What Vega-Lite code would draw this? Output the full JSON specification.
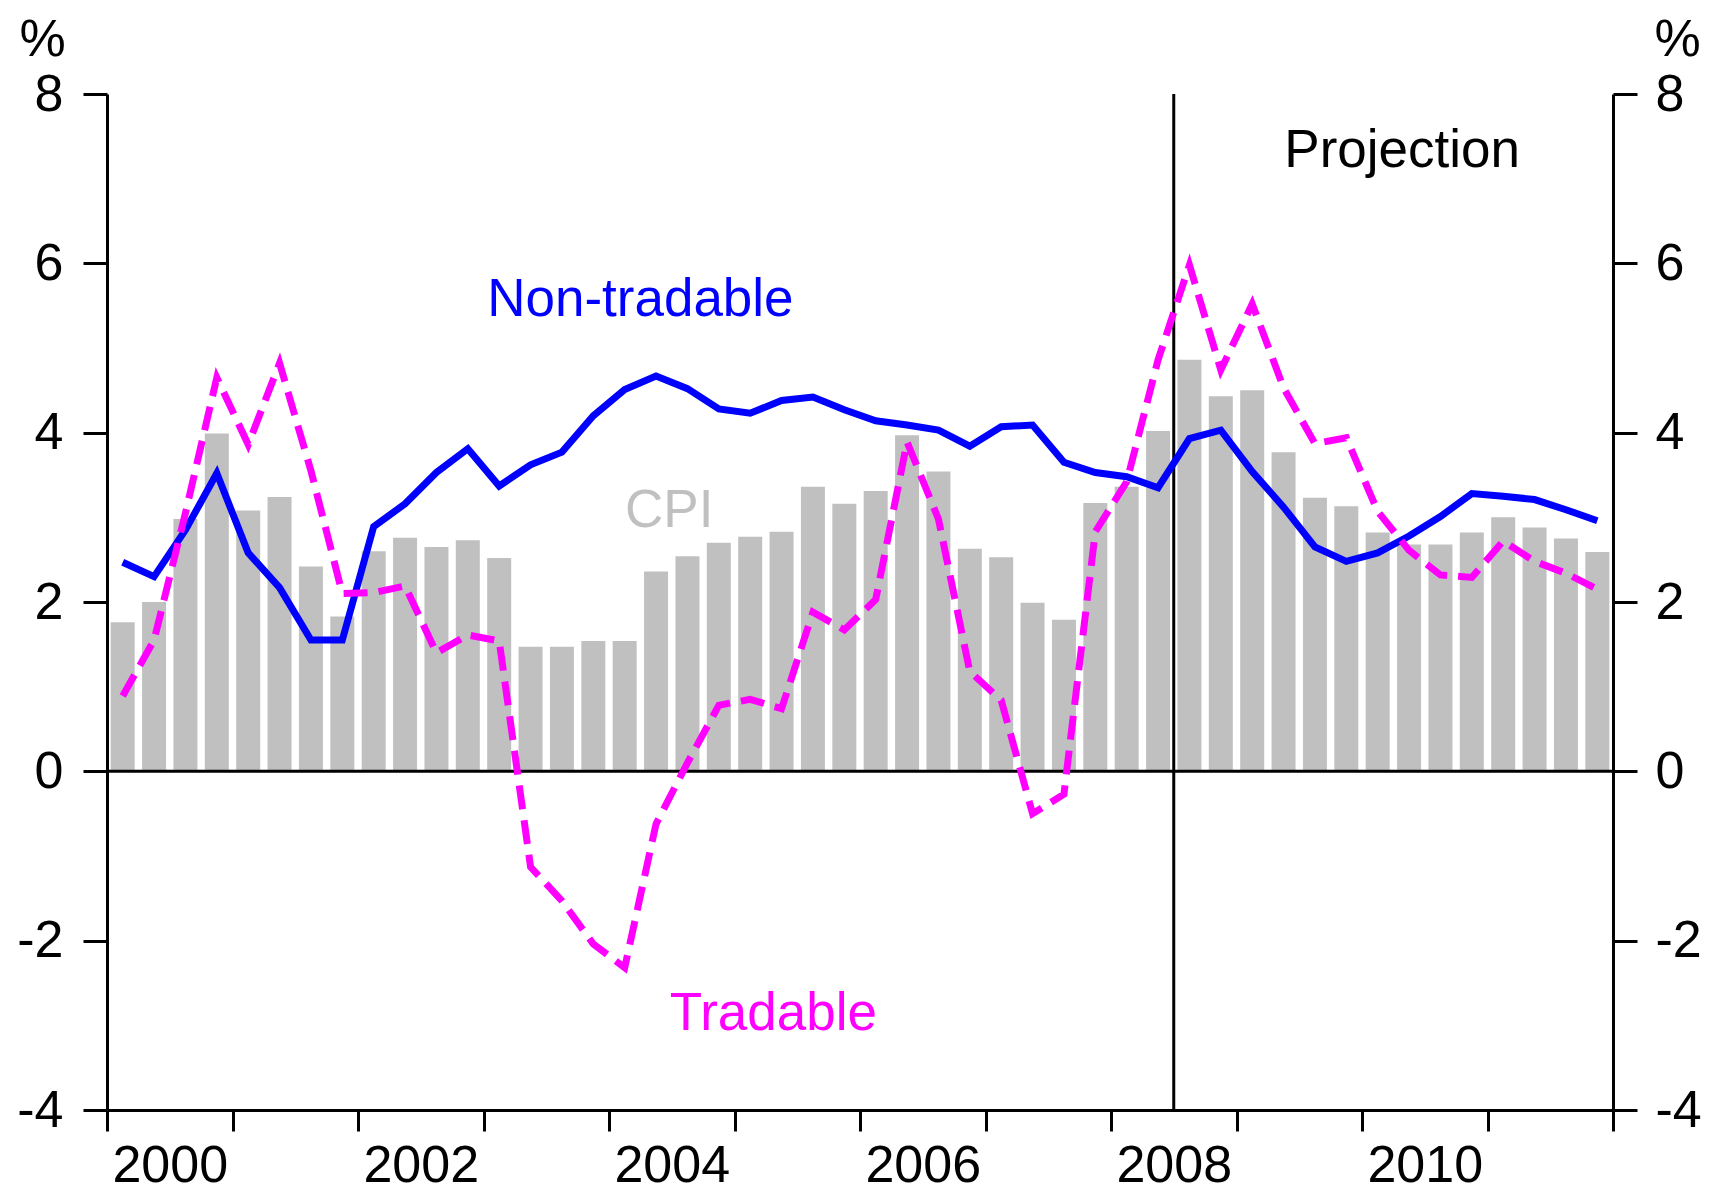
{
  "$schema": "https://vega.github.io/schema/vega-lite/v6.json",
  "width": 1506,
  "height": 1016,
  "autosize": {"type": "none"},
  "padding": {"left": 107, "top": 94, "right": 96, "bottom": 82},
  "background": "white",
  "config": {
    "view": {"stroke": null},
    "font": "Liberation Sans",
    "axis": {
      "grid": false,
      "domainColor": "black",
      "domainWidth": 3,
      "tickColor": "black",
      "tickWidth": 3,
      "tickSize": 24,
      "labelFont": "Liberation Sans",
      "labelFontSize": 52,
      "labelColor": "black",
      "labelOverlap": false,
      "titleFont": "Liberation Sans",
      "titleFontSize": 52,
      "titleFontWeight": "normal",
      "titleColor": "black"
    }
  },
  "datasets": {
    "series": [
      {"date": 2000.125, "cpi": 1.76, "nontradable": 2.47, "tradable": 0.89},
      {"date": 2000.375, "cpi": 2.00, "nontradable": 2.30, "tradable": 1.55},
      {"date": 2000.625, "cpi": 2.98, "nontradable": 2.85, "tradable": 3.05},
      {"date": 2000.875, "cpi": 3.99, "nontradable": 3.52, "tradable": 4.65},
      {"date": 2001.125, "cpi": 3.08, "nontradable": 2.58, "tradable": 3.86},
      {"date": 2001.375, "cpi": 3.24, "nontradable": 2.17, "tradable": 4.82},
      {"date": 2001.625, "cpi": 2.42, "nontradable": 1.55, "tradable": 3.55},
      {"date": 2001.875, "cpi": 1.83, "nontradable": 1.55, "tradable": 2.10},
      {"date": 2002.125, "cpi": 2.60, "nontradable": 2.89, "tradable": 2.11},
      {"date": 2002.375, "cpi": 2.76, "nontradable": 3.16, "tradable": 2.19},
      {"date": 2002.625, "cpi": 2.65, "nontradable": 3.53, "tradable": 1.40},
      {"date": 2002.875, "cpi": 2.73, "nontradable": 3.81, "tradable": 1.61},
      {"date": 2003.125, "cpi": 2.52, "nontradable": 3.37, "tradable": 1.54},
      {"date": 2003.375, "cpi": 1.47, "nontradable": 3.62, "tradable": -1.13},
      {"date": 2003.625, "cpi": 1.47, "nontradable": 3.77, "tradable": -1.53},
      {"date": 2003.875, "cpi": 1.54, "nontradable": 4.20, "tradable": -2.04},
      {"date": 2004.125, "cpi": 1.54, "nontradable": 4.51, "tradable": -2.32},
      {"date": 2004.375, "cpi": 2.36, "nontradable": 4.67, "tradable": -0.62},
      {"date": 2004.625, "cpi": 2.54, "nontradable": 4.52, "tradable": 0.10},
      {"date": 2004.875, "cpi": 2.70, "nontradable": 4.28, "tradable": 0.78},
      {"date": 2005.125, "cpi": 2.77, "nontradable": 4.23, "tradable": 0.85},
      {"date": 2005.375, "cpi": 2.83, "nontradable": 4.38, "tradable": 0.74},
      {"date": 2005.625, "cpi": 3.36, "nontradable": 4.42, "tradable": 1.88},
      {"date": 2005.875, "cpi": 3.16, "nontradable": 4.27, "tradable": 1.67},
      {"date": 2006.125, "cpi": 3.31, "nontradable": 4.14, "tradable": 2.03},
      {"date": 2006.375, "cpi": 3.97, "nontradable": 4.09, "tradable": 3.89},
      {"date": 2006.625, "cpi": 3.54, "nontradable": 4.03, "tradable": 2.98},
      {"date": 2006.875, "cpi": 2.63, "nontradable": 3.84, "tradable": 1.18},
      {"date": 2007.125, "cpi": 2.53, "nontradable": 4.07, "tradable": 0.84},
      {"date": 2007.375, "cpi": 1.99, "nontradable": 4.09, "tradable": -0.50},
      {"date": 2007.625, "cpi": 1.79, "nontradable": 3.65, "tradable": -0.27},
      {"date": 2007.875, "cpi": 3.17, "nontradable": 3.53, "tradable": 2.83},
      {"date": 2008.125, "cpi": 3.36, "nontradable": 3.48, "tradable": 3.42},
      {"date": 2008.375, "cpi": 4.02, "nontradable": 3.35, "tradable": 4.86},
      {"date": 2008.625, "cpi": 4.86, "nontradable": 3.93, "tradable": 5.98},
      {"date": 2008.875, "cpi": 4.43, "nontradable": 4.03, "tradable": 4.74},
      {"date": 2009.125, "cpi": 4.50, "nontradable": 3.54, "tradable": 5.52},
      {"date": 2009.375, "cpi": 3.77, "nontradable": 3.12, "tradable": 4.53},
      {"date": 2009.625, "cpi": 3.23, "nontradable": 2.65, "tradable": 3.87},
      {"date": 2009.875, "cpi": 3.13, "nontradable": 2.48, "tradable": 3.94},
      {"date": 2010.125, "cpi": 2.82, "nontradable": 2.58, "tradable": 3.07},
      {"date": 2010.375, "cpi": 2.68, "nontradable": 2.78, "tradable": 2.61},
      {"date": 2010.625, "cpi": 2.68, "nontradable": 3.01, "tradable": 2.32},
      {"date": 2010.875, "cpi": 2.82, "nontradable": 3.28, "tradable": 2.29},
      {"date": 2011.125, "cpi": 3.00, "nontradable": 3.25, "tradable": 2.72},
      {"date": 2011.375, "cpi": 2.88, "nontradable": 3.21, "tradable": 2.48},
      {"date": 2011.625, "cpi": 2.75, "nontradable": 3.09, "tradable": 2.34},
      {"date": 2011.875, "cpi": 2.59, "nontradable": 2.96, "tradable": 2.15}
    ],
    "labels": [
      {"label": "Non-tradable", "date": 2004.25, "value": 5.38},
      {"label": "CPI", "date": 2004.48, "value": 2.89},
      {"label": "Tradable", "date": 2005.31, "value": -3.05},
      {"label": "Projection", "date": 2010.32, "value": 7.14}
    ],
    "markers": [
      {"date": 2008.5, "value": 0}
    ]
  },
  "resolve": {"scale": {"y": "independent"}},
  "layer": [
    {
      "data": {"name": "series"},
      "mark": {"type": "bar", "color": "#c0c0c0", "size": 24},
      "encoding": {
        "x": {
          "field": "date", "type": "quantitative", "title": null,
          "scale": {"domain": [2000, 2012], "nice": false, "zero": false, "padding": 0},
          "axis": {
            "orient": "bottom",
            "values": [2000, 2001, 2002, 2003, 2004, 2005, 2006, 2007, 2008, 2009, 2010, 2011, 2012],
            "labelExpr": "datum.value % 2 == 0 && datum.value < 2012 ? '' + datum.value : ''",
            "labelOffset": 62.75,
            "labelFlush": false,
            "tickSize": 21,
            "labelPadding": 9,
            "title": null
          }
        },
        "y": {
          "field": "cpi", "type": "quantitative",
          "scale": {"domain": [-4, 8], "nice": false},
          "axis": {
            "orient": "left",
            "values": [-4, -2, 0, 2, 4, 6, 8],
            "labelExpr": "'' + datum.value",
            "labelPadding": 20,
            "title": "%",
            "titleAngle": 0,
            "titleAlign": "center",
            "titleBaseline": "alphabetic",
            "titleX": -65,
            "titleY": -39
          }
        }
      }
    },
    {
      "data": {"name": "series"},
      "mark": {"type": "point", "opacity": 0},
      "encoding": {
        "x": {"field": "date", "type": "quantitative", "title": null},
        "y": {
          "field": "cpi", "type": "quantitative",
          "scale": {"domain": [-4, 8], "nice": false},
          "axis": {
            "orient": "right",
            "values": [-4, -2, 0, 2, 4, 6, 8],
            "labelExpr": "'' + datum.value",
            "labelPadding": 18,
            "title": "%",
            "titleAngle": 0,
            "titleAlign": "center",
            "titleBaseline": "alphabetic",
            "titleX": 64,
            "titleY": -39
          }
        }
      }
    },
    {
      "data": {"name": "markers"},
      "mark": {"type": "rule", "color": "black", "strokeWidth": 3},
      "encoding": {
        "y": {"field": "value", "type": "quantitative", "scale": {"domain": [-4, 8], "nice": false}, "axis": null}
      }
    },
    {
      "data": {"name": "markers"},
      "mark": {"type": "rule", "color": "black", "strokeWidth": 3},
      "encoding": {
        "x": {"field": "date", "type": "quantitative", "title": null}
      }
    },
    {
      "data": {"name": "series"},
      "mark": {"type": "line", "color": "#0000ff", "strokeWidth": 7},
      "encoding": {
        "x": {"field": "date", "type": "quantitative", "title": null},
        "y": {"field": "nontradable", "type": "quantitative", "scale": {"domain": [-4, 8], "nice": false}, "axis": null}
      }
    },
    {
      "data": {"name": "series"},
      "mark": {"type": "line", "color": "#ff00ff", "strokeWidth": 7, "strokeDash": [24, 11]},
      "encoding": {
        "x": {"field": "date", "type": "quantitative", "title": null},
        "y": {"field": "tradable", "type": "quantitative", "scale": {"domain": [-4, 8], "nice": false}, "axis": null}
      }
    },
    {
      "data": {"name": "labels"},
      "mark": {"type": "text", "fontSize": 53, "font": "Liberation Sans", "align": "center", "baseline": "alphabetic"},
      "encoding": {
        "x": {"field": "date", "type": "quantitative", "title": null},
        "y": {"field": "value", "type": "quantitative", "scale": {"domain": [-4, 8], "nice": false}, "axis": null},
        "text": {"field": "label"},
        "color": {
          "field": "label", "type": "nominal",
          "scale": {"domain": ["Non-tradable", "CPI", "Tradable", "Projection"], "range": ["#0000ff", "#c0c0c0", "#ff00ff", "#000000"]},
          "legend": null
        }
      }
    }
  ]
}
